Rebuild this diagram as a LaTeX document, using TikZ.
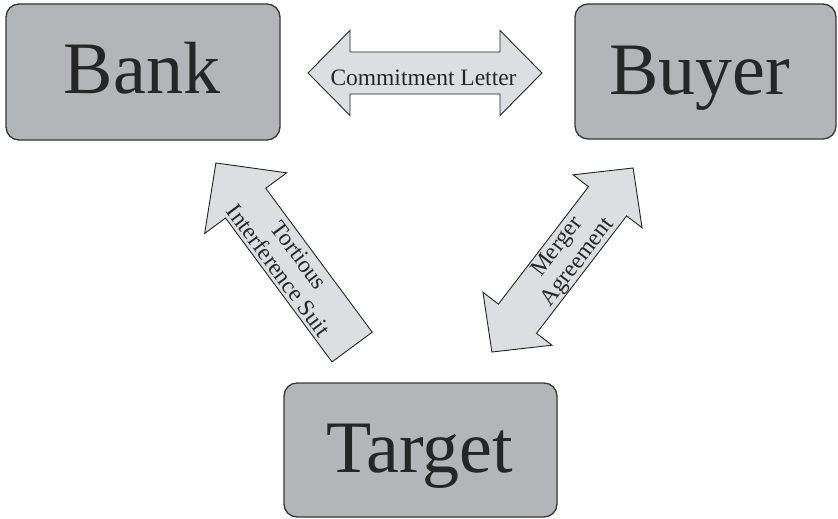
\documentclass[tikz,border=0pt]{standalone}
\usepackage{fontspec}
\setmainfont{Liberation Serif}
\definecolor{boxfill}{RGB}{180,181,185}
\definecolor{boxline}{RGB}{55,55,57}
\definecolor{arrowfill}{RGB}{221,222,225}
\definecolor{arrowline}{RGB}{35,35,35}
\begin{document}
\begin{tikzpicture}[x=1pt,y=-1pt,
  party/.style={draw=boxline, line width=1.3pt, fill=boxfill, rounded corners=13pt},
  partytext/.style={anchor=base, inner sep=0pt, font=\fontsize{74}{80}\selectfont, text=black!85},
  arrowshape/.style={draw=arrowline, line width=0.9pt, fill=arrowfill, line join=miter},
  arrowtext/.style={inner sep=0pt, align=center, font=\fontsize{23.5}{25.5}\selectfont, text=black!85}]
\useasboundingbox (0,0) rectangle (838,519);
% boxes
\node[party, minimum width=274pt, minimum height=136pt] (bank) at (143,72) {};
\node[party, minimum width=261pt, minimum height=135pt] (buyer) at (705.5,71.5) {};
\node[party, minimum width=273pt, minimum height=134pt] (target) at (420.5,450) {};
\node[partytext] (banktext) at (142,93) {Bank};
\node[partytext] (buyertext) at (700,94) {Buyer};
\node[partytext] (targettext) at (420,472) {Target};
% commitment letter (double, horizontal)
\begin{scope}[shift={(425,73)}]
\draw[arrowshape] (-117,0) -- (-75,42.5) -- (-75,21) -- (75,21) -- (75,42.5) -- (117,0)
  -- (75,-42.5) -- (75,-21) -- (-75,-21) -- (-75,-42.5) -- cycle;
\end{scope}
\node[arrowtext, anchor=base] (commit) at (423.5,85) {Commitment Letter};
% merger agreement (double, diagonal)
\begin{scope}[shift={(562.5,260)}, rotate=52.5]
\draw[arrowshape] (-116,0) -- (-74,43.5) -- (-74,24) -- (74,24) -- (74,43.5) -- (116,0)
  -- (74,-43.5) -- (74,-24) -- (-74,-24) -- (-74,-43.5) -- cycle;
\end{scope}
\node[arrowtext, rotate=52.5] (merger) at (568,255) {Merger\\Agreement};
% tortious interference suit (single, pointing to bank)
\begin{scope}[shift={(284,255)}, rotate=126.5]
\draw[arrowshape] (-114.5,-25) -- (64.5,-25) -- (64.5,-51) -- (114.5,0) -- (64.5,51)
  -- (64.5,25) -- (-114.5,25) -- cycle;
\end{scope}
\node[arrowtext, rotate=-53.5] (suit) at (289,263) {Tortious\\Interference Suit};
\end{tikzpicture}
\end{document}
